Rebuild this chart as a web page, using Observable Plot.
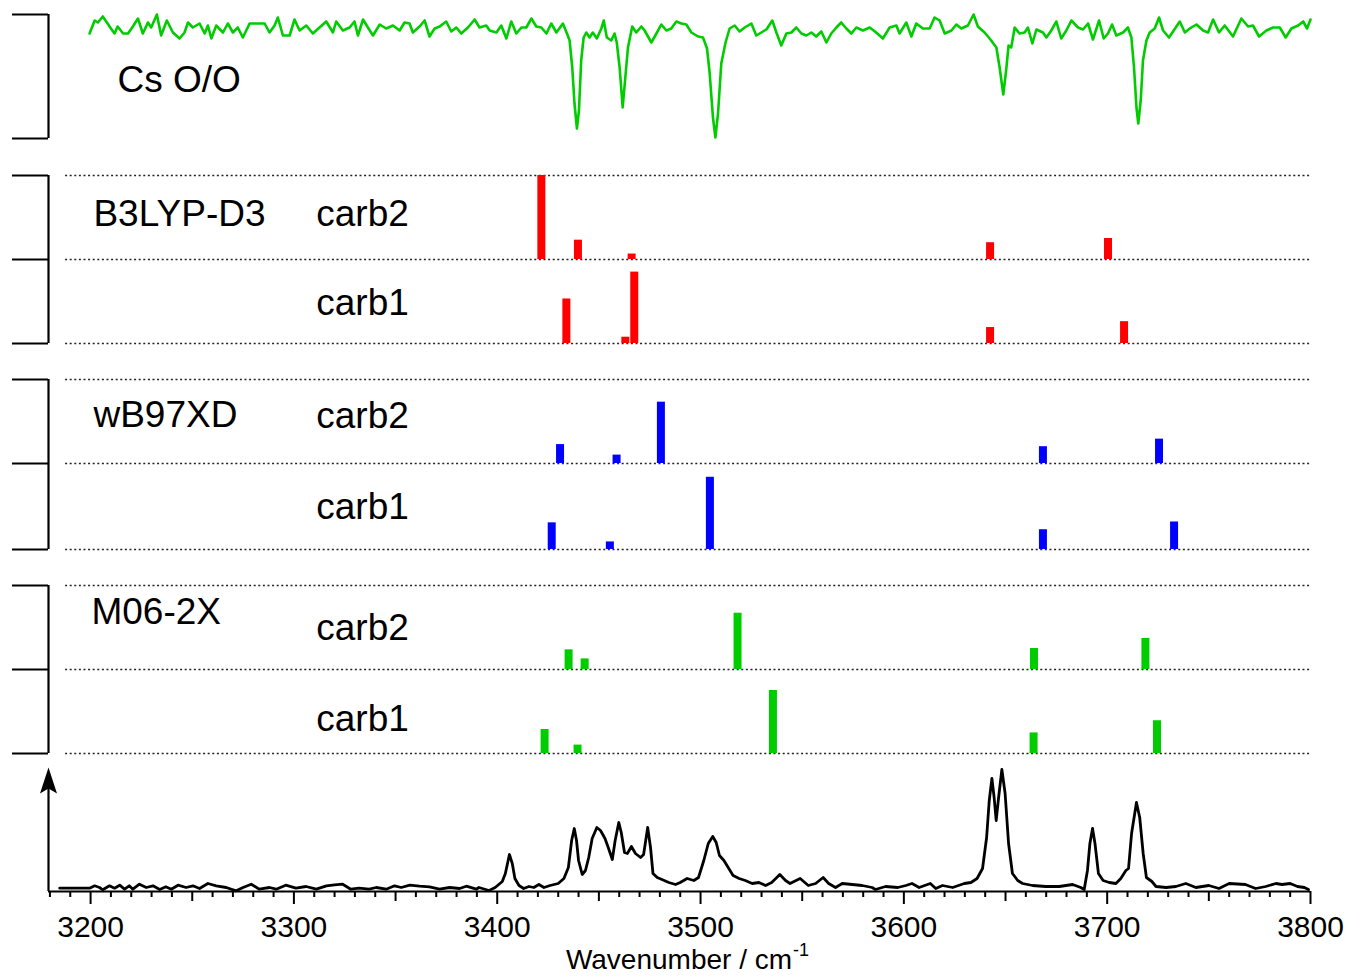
<!DOCTYPE html>
<html>
<head>
<meta charset="utf-8">
<script src="https://cdn.jsdelivr.net/npm/d3@7"></script>
<script src="https://cdn.jsdelivr.net/npm/@observablehq/plot@0.6"></script>
<style>
  body { margin: 0; background: #fff; }
  #chart svg { display: block; }
</style>
</head>
<body>
<div id="chart"></div>
<script>
// ---------- DATA ----------
// Ion-dip (Cs O/O) trace: [wavenumber, signal (baseline ~0, dips negative)]
const csOO = [
[3199.5,-5],[3202,8],[3203.6,6],[3206,12],[3207.7,7],[3210,0],[3211.8,-5],[3213.3,2],[3216,-5],[3218.4,-5],
[3220.8,2],[3223.3,10],[3225.7,-5],[3228.2,6],[3229.8,1],[3232.6,14],[3234.7,-7],[3237.5,8],[3240.5,-4],[3243.8,-10],
[3246.2,-4],[3247.9,6],[3250.3,1],[3253.6,5],[3256.1,-5],[3257.7,3],[3259.4,-10],[3261.8,3],[3265.1,-4],[3267.5,5],
[3270,-4],[3272.4,1],[3274.9,-9],[3278.2,5],[3281.4,5],[3285.6,5],[3288,-4],[3290.5,3],[3292.1,11],[3294.6,-7],
[3297.9,-7],[3300.3,9],[3302.8,-2],[3306.1,3],[3309.3,-5],[3312.6,1],[3315.9,7],[3319.2,-4],[3320.8,7],[3324.1,-2],
[3327.4,1],[3329.8,7],[3331.5,-7],[3334,9],[3336.4,1],[3338.9,-7],[3342.2,4],[3345.4,0],[3348.7,3],[3352,-2],
[3354.4,6],[3356.9,5],[3358.5,-4],[3361.8,2],[3364.3,8],[3366.7,-8],[3369.2,0],[3371.7,2],[3374.9,7],[3377.4,-3],
[3379.9,1],[3382.3,-5],[3385.6,1],[3388.9,9],[3391.3,1],[3394.6,3],
[3396.3,-2],[3399.6,-4],[3402,3],[3404.5,-10],[3406.9,7],[3409.4,-5],[3411.9,1],[3414.3,1],[3416.8,10],[3419.2,2],
[3421.7,1],[3424.2,-5],[3426.6,5],[3429.1,-4],[3432.3,5],[3434.3,-5],[3435.6,-12],[3436.9,-39],[3438,-75],[3439.2,-100],
[3440.2,-82],[3441.3,-32],[3442.5,-9],[3443.8,-4],[3445.4,-9],[3447,-4],[3449,-10],[3451.2,0],[3452.4,8],[3453.9,-9],
[3456.1,-12],[3457.7,-5],[3458.8,-14],[3460.2,-39],[3461.7,-79],[3463,-49],[3464.3,-19],[3466.4,2],[3468.4,-4],[3470.9,2],
[3472.5,-2],[3475.8,-14],[3478.3,-5],[3480.7,4],[3483.2,-2],[3485.6,0],[3488.1,7],[3490.6,5],[3493,4],[3495.5,-4],
[3498.8,-8],[3501.2,-9],[3503.2,-20],[3504.5,-45],[3506.1,-89],[3507.3,-109],[3508.6,-85],[3510.2,-35],[3512.3,-14],[3514.3,0],
[3516.8,3],[3519.2,-3],[3521.7,1],[3525,5],[3527.4,-7],[3529.9,-4],[3532.4,-1],[3535.3,8],[3537.3,-4],[3539.7,-17],
[3542.2,-5],[3544.7,-4],[3547.1,1],[3549.6,-5],[3552,-7],[3554.5,-4],[3556.9,-8],[3559.4,-3],[3561.9,-14],[3564.3,-5],
[3566.8,1],[3569.2,6],[3571.7,0],[3574.2,-5],[3576.6,1],[3579.9,-2],[3583.2,1],[3586.4,-4],[3589.7,-10],[3593,1],
[3596.3,3],[3597.9,-5],[3601.2,6],[3603.7,-8],[3606.1,5],[3609.4,0],[3612.7,0],[3615.1,11],[3617.6,8],[3620.1,-5],
[3623.4,-2],[3625.8,4],[3628.3,0],[3631.5,3],[3634.3,14],[3636.4,2],[3639.7,-4],[3642.2,-10],[3645.5,-19],[3647.1,-39],
[3648.9,-66],[3650.3,-42],[3651.5,-17],[3652.8,-19],[3654.5,1],[3656.9,-5],[3659.4,-4],[3661,1],[3663.2,-15],[3665.2,-1],
[3668.4,-4],[3670.1,-9],[3672.5,-2],[3675,7],[3677.4,-10],[3679.9,-2],[3682.4,8],[3685.7,1],[3688.1,-1],[3690.6,5],
[3693,-11],[3696,8],[3698.3,-10],[3700.4,-5],[3702.4,4],[3704.5,-7],[3707.8,-4],[3710.2,1],[3711.9,-9],[3713.2,-39],
[3714.4,-79],[3715.3,-95],[3716.5,-72],[3717.6,-32],[3719.3,-12],[3720.9,-4],[3723.4,0],[3725.5,11],[3727.5,-2],[3730.4,-9],
[3732.4,-3],[3735.7,7],[3738.2,-4],[3740.6,0],[3743.9,4],[3747.2,-2],[3749.6,-4],[3752.1,9],[3755,-4],[3757.8,3],
[3761.9,-8],[3766,10],[3769.3,2],[3771.7,3],[3774.7,-8],[3778.3,-2],[3781.6,1],[3784.9,1],[3787.8,-9],[3790.6,0],
[3793.9,3],[3796.4,7],[3798.3,0],[3800,9]
];

// Experimental IR spectrum (bottom): [wavenumber, intensity]
const irSpectrum = [
[3184.8,3.3],[3199.5,3.3],[3202,5.7],[3204.4,4],[3206,1.7],[3209.3,5.7],[3211.8,3.3],[3214.3,6.3],[3216.7,2.3],[3219,5.7],
[3220.8,2.3],[3224,7.3],[3227.4,4],[3230.7,5.7],[3234,2],[3237,4.7],[3239.7,2.3],[3243,6.3],[3247,4],[3250.3,5.7],
[3253.6,3],[3257.7,8],[3261.8,5.7],[3266.7,4],[3271.6,0.7],[3275,4],[3279,7.3],[3283,2.3],[3288,4],[3291.3,2.3],
[3296,6.3],[3301,3.3],[3306,5],[3311,2.3],[3316,5.7],[3320,6.7],[3324,7.3],[3328,2.3],[3332,3.3],[3337,2.3],
[3340.5,4],[3345.4,2.3],[3349.5,5.7],[3352.8,4],[3357,6.3],[3361.8,5.3],[3366.7,4.7],[3371.6,2.3],[3376.6,4],[3381.5,3],
[3384.8,5.3],[3389.7,2.3],[3391,4],[3396,1],[3399,4],[3402.5,10],[3404,18],[3406,37],[3407.4,28],[3408.7,13],
[3410.7,6],[3413,3],[3415.6,5],[3418,4],[3420.5,7],[3423,4],[3426,6],[3430,8],[3432.8,13],[3435,24],
[3436.6,51],[3437.9,63],[3439,51],[3440,31],[3441.8,17],[3443.4,21],[3445,34],[3446.7,53],[3449,64],[3450.8,61],
[3453,53],[3454.6,44],[3456.6,32],[3458,51],[3459.8,69],[3461,59],[3462.6,39],[3464,38],[3466,45],[3468,38],
[3470.5,34],[3472,37],[3474,64],[3475.4,44],[3476.6,18],[3478.7,14],[3481,12],[3484.4,9],[3487.7,7],[3490,9],
[3493.4,13],[3496.7,11],[3499,14],[3501.6,31],[3503.8,48],[3506,55],[3507.7,49],[3509.3,36],[3511.5,31],[3513.6,24],
[3516,16],[3519,13],[3522,11],[3525.4,8],[3528.7,9],[3532,6],[3535,9],[3539,17],[3541.8,11],[3544,8],
[3549,13],[3553,6],[3556.6,8],[3560.3,14],[3563,8],[3566.4,4],[3569.7,8],[3574.6,7],[3579.5,6],[3584.4,4],
[3586,2],[3591,5],[3597,4],[3601,6],[3604,8],[3607.5,4],[3613,8],[3615.7,3],[3619,6],[3624,4],
[3629.7,8],[3633,9],[3636,13],[3638.7,23],[3640.7,54],[3642,91],[3643.3,113],[3644.4,94],[3645.4,71],[3646.6,94],
[3648.2,122],[3649.8,98],[3651.5,48],[3653.4,18],[3656,11],[3658.4,8],[3663.3,6],[3669.8,5],[3676.4,5],[3683,7],
[3687,4],[3688.7,2],[3690.3,21],[3691.5,48],[3692.8,63],[3694,48],[3695.7,18],[3698,11],[3701,9],[3704.3,8],
[3706.7,13],[3709.2,21],[3710.5,23],[3712,58],[3714.4,89],[3716,74],[3717.7,38],[3719.3,14],[3722,10],[3724,5],
[3729,4],[3733.8,5],[3738.7,8],[3743.6,4],[3750,6],[3755,3],[3760,8],[3768,7],[3773,3],[3778,5],
[3783,8],[3786,7],[3790,8],[3793.6,5],[3797,4],[3799,2]
];

// Calculated stick spectra: [wavenumber, relative intensity]
const b3lypCarb2 = [[3421.7,1.0],[3439.7,0.23],[3466.1,0.065],[3642.4,0.2],[3700.4,0.25]];
const b3lypCarb1 = [[3434.0,0.53],[3463.0,0.075],[3467.4,0.85],[3642.4,0.19],[3708.3,0.26]];
const wb97Carb2  = [[3430.9,0.225],[3458.7,0.10],[3480.5,0.73],[3668.4,0.2],[3725.5,0.29]];
const wb97Carb1  = [[3426.8,0.31],[3455.4,0.088],[3504.6,0.84],[3668.4,0.23],[3732.9,0.32]];
const m06Carb2   = [[3435.1,0.234],[3443.0,0.126],[3518.2,0.67],[3664.0,0.25],[3718.8,0.37]];
const m06Carb1   = [[3423.3,0.286],[3439.5,0.10],[3535.6,0.75],[3663.8,0.245],[3724.5,0.39]];

const methods = ["B3LYP-D3", "wB97XD", "M06-2X"];
const conformers = ["carb2", "carb1"];
const xTickLabels = [3200, 3300, 3400, 3500, 3600, 3700, 3800];
const xAxisTitle = "Wavenumber / cm";
const xAxisSup = "-1";
const topLabel = "Cs O/O";

// ---------- LAYOUT ----------
const GREEN = "#00cc00", RED = "#ff0000", BLUE = "#0000ff";
const FONT = "'Liberation Sans', Arial, Helvetica, sans-serif";
const LABEL_SIZE = 37;
const xMin = 3179.3, xMax = 3800;
const bracketX = 3161.6;      // left end of bracket ticks
const dotStart = 3187.7;      // left end of dotted baselines
const greenBase = 863;
const greenBracket = [753, 877];

const panels = [
  {name: methods[0], color: RED,  top: 716, mid: 632, bottom: 548, carb2: b3lypCarb2, carb1: b3lypCarb1, labelX: 3201.4, labelY: 677, c2Y: 677, c1Y: 588},
  {name: methods[1], color: BLUE, top: 512, mid: 428, bottom: 342, carb2: wb97Carb2,  carb1: wb97Carb1,  labelX: 3201.4, labelY: 476, c2Y: 475, c1Y: 384},
  {name: methods[2], color: GREEN,top: 306, mid: 222, bottom: 138, carb2: m06Carb2,   carb1: m06Carb1,   labelX: 3200.4, labelY: 279, c2Y: 263, c1Y: 172}
];
const confX = 3311;

const bars = panels.flatMap(p => [
  ...p.carb2.map(([w, f]) => ({w, y1: p.mid, y2: p.mid + f * (p.top - p.mid), color: p.color})),
  ...p.carb1.map(([w, f]) => ({w, y1: p.bottom, y2: p.bottom + f * (p.mid - p.bottom), color: p.color}))
]);
const dottedYs = panels.flatMap(p => [p.top, p.mid, p.bottom]);
const bracketVert = [...panels.map(p => ({y1: p.bottom, y2: p.top})), {y1: greenBracket[0], y2: greenBracket[1]}];
const bracketTicks = [...dottedYs, ...greenBracket];

const minorTicks = d3.range(3180, 3801, 10).map(v => ({v, len: v % 100 === 0 ? 13 : (v % 50 === 0 ? 10 : 6)}));

const arrowHead = {
  draw(ctx) {
    ctx.moveTo(0, 0);
    ctx.lineTo(-8.5, 26);
    ctx.lineTo(0, 21);
    ctx.lineTo(8.5, 26);
    ctx.closePath();
  }
};

const textMarks = [];
panels.forEach(p => {
  textMarks.push(Plot.text([p.name], {x: p.labelX, y: p.labelY, text: d => d, textAnchor: "start", lineAnchor: "middle", fontSize: LABEL_SIZE, fill: "black"}));
  textMarks.push(Plot.text([conformers[0]], {x: confX, y: p.c2Y, text: d => d, textAnchor: "start", lineAnchor: "middle", fontSize: LABEL_SIZE, fill: "black"}));
  textMarks.push(Plot.text([conformers[1]], {x: confX, y: p.c1Y, text: d => d, textAnchor: "start", lineAnchor: "middle", fontSize: LABEL_SIZE, fill: "black"}));
});

const chart = Plot.plot({
  width: 1347,
  height: 976,
  marginLeft: 48,
  marginRight: 37,
  marginTop: 0,
  marginBottom: 85,
  style: {fontFamily: FONT, background: "#fff", overflow: "visible"},
  x: {domain: [xMin, xMax], axis: null},
  y: {domain: [0, 891], axis: null},
  marks: [
    // dotted baselines
    Plot.ruleY(dottedYs, {x1: dotStart, x2: xMax, stroke: "#222", strokeWidth: 1.5, strokeDasharray: "2,2.6"}),
    // brackets
    Plot.ruleX(bracketVert, {x: xMin, y1: "y1", y2: "y2", stroke: "black", strokeWidth: 2.2}),
    Plot.ruleY(bracketTicks, {x1: bracketX, x2: xMin, stroke: "black", strokeWidth: 2.2}),
    // stick spectra
    Plot.ruleX(bars, {x: "w", y1: "y1", y2: "y2", stroke: "color", strokeWidth: 8}),
    // ion-dip trace
    Plot.line(csOO, {x: d => d[0], y: d => greenBase + d[1], stroke: GREEN, strokeWidth: 2.6, strokeLinejoin: "round"}),
    // experimental IR spectrum
    Plot.line(irSpectrum, {x: d => d[0], y: d => d[1], stroke: "black", strokeWidth: 2.8, strokeLinejoin: "round"}),
    // x axis
    Plot.ruleY([0], {x1: xMin, x2: xMax, stroke: "black", strokeWidth: 2.2}),
    Plot.ruleX(minorTicks, {x: "v", y1: 0, y2: d => -d.len, stroke: "black", strokeWidth: 2}),
    Plot.text(xTickLabels, {x: d => d, y: -36, text: d => String(d), fontSize: 30, lineAnchor: "middle", fill: "black"}),
    Plot.text([xAxisTitle], {x: 3545, y: -69, text: d => d, textAnchor: "end", lineAnchor: "middle", fontSize: 28, fill: "black"}),
    Plot.text([xAxisSup], {x: 3545, y: -69, dx: 1, dy: -10, text: d => d, textAnchor: "start", lineAnchor: "middle", fontSize: 18, fill: "black"}),
    // y arrow
    Plot.ruleX([0], {x: xMin, y1: 0, y2: 105, stroke: "black", strokeWidth: 2.2}),
    Plot.dot([0], {x: xMin, y: 124, symbol: arrowHead, fill: "black", stroke: "none"}),
    // labels
    Plot.text([topLabel], {x: 3213.2, y: 811, text: d => d, textAnchor: "start", lineAnchor: "middle", fontSize: LABEL_SIZE, fill: "black"}),
    ...textMarks
  ]
});
document.getElementById("chart").appendChild(chart);
</script>
</body>
</html>
